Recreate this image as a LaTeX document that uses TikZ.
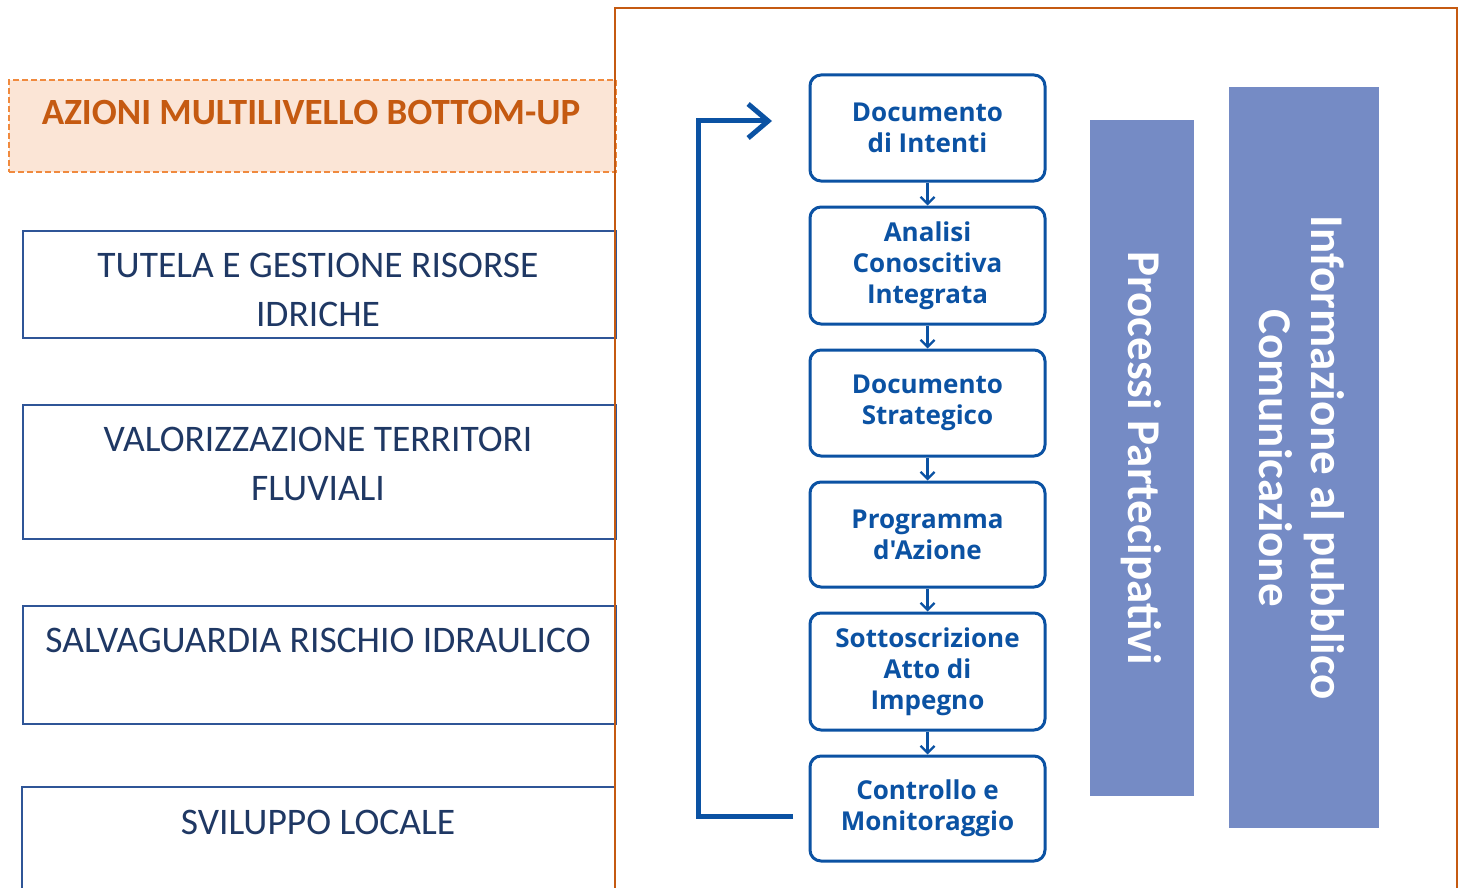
\documentclass[tikz,border=0pt]{standalone}
\usepackage{fontspec}
\setmainfont{Carlito}
\newfontfamily\flowfont{Open Sans}
\usetikzlibrary{arrows.meta}
\definecolor{orng}{HTML}{C55A11}
\definecolor{orngdash}{HTML}{F08A3E}
\definecolor{peach}{HTML}{FBE5D6}
\definecolor{navy}{HTML}{1F3864}
\definecolor{lbord}{HTML}{2F5597}
\definecolor{flowblue}{HTML}{0B52A3}
\definecolor{barblue}{HTML}{758BC5}
\tikzset{
  leftbox/.style={draw=lbord, line width=2pt},
  lefttext/.style={text=navy, font=\fontsize{37.5}{49}\selectfont, align=center, inner sep=0pt},
  flowbox/.style={draw=flowblue, line width=3pt, rounded corners=11pt, minimum width=235pt, text=flowblue, font=\flowfont\bfseries\fontsize{26}{31}\selectfont, align=center, inner sep=0pt},
  smallarrow/.style={draw=flowblue, line width=2.3pt, -{Straight Barb[length=7pt,width=14pt,line width=2.3pt]}},
  bigarrow/.style={draw=flowblue, line width=5pt, -{Straight Barb[length=20pt,width=34pt,line width=5pt]}},
  bar/.style={fill=barblue, draw=none},
  bartext/.style={text=white, font=\bfseries\fontsize{47}{52}\selectfont, align=center, rotate=-90, inner sep=0pt}
}
\begin{document}
\begin{tikzpicture}[x=1pt,y=-1pt]
\useasboundingbox (0,0) rectangle (1462,888);
\clip (0,0) rectangle (1462,888);
\fill[white] (0,0) rectangle (1462,888);

% left boxes
\node[leftbox, minimum width=593pt, minimum height=107pt, inner sep=0pt, anchor=north west] (b1) at (22,230) {};
\node[lefttext] (t1) at (318,290) {TUTELA E GESTIONE RISORSE\\IDRICHE};
\node[leftbox, minimum width=593pt, minimum height=134pt, inner sep=0pt, anchor=north west] (b2) at (22,404) {};
\node[lefttext] (t2) at (318,464) {VALORIZZAZIONE TERRITORI\\FLUVIALI};
\node[leftbox, minimum width=593pt, minimum height=118pt, inner sep=0pt, anchor=north west] (b3) at (22,605) {};
\node[lefttext] (t3) at (318,640) {SALVAGUARDIA RISCHIO IDRAULICO};
\node[leftbox, minimum width=593pt, minimum height=140pt, inner sep=0pt, anchor=north west] (b4) at (21,786) {};
\node[lefttext] (t4) at (318,822) {SVILUPPO LOCALE};

% header
\node[draw=orngdash, fill=peach, dashed, dash pattern=on 6pt off 3pt, line width=2pt, minimum width=607pt, minimum height=92pt, inner sep=0pt, anchor=north west] (hdr) at (8,79) {};
\node[text=orng, font=\bfseries\fontsize{37}{40}\selectfont, inner sep=0pt] (hdrt) at (311,113) {AZIONI MULTILIVELLO BOTTOM-UP};

% orange frame
\draw[orng, line width=2pt] (615,900) -- (615,8) -- (1457,8) -- (1457,900);

% flow boxes
\node[flowbox, minimum height=106pt] (f1) at (927.5,128) {Documento\\di Intenti};
\node[flowbox, minimum height=117pt] (f2) at (927.5,265.5) {Analisi\\Conoscitiva\\Integrata};
\node[flowbox, minimum height=106pt] (f3) at (927.5,403) {Documento\\Strategico};
\node[flowbox, minimum height=105pt] (f4) at (927.5,534.5) {Programma\\d'Azione};
\node[flowbox, minimum height=117pt] (f5) at (927.5,671.5) {Sottoscrizione\\Atto di\\Impegno};
\node[flowbox, minimum height=105pt] (f6) at (927.5,808.5) {Controllo e\\Monitoraggio};

\draw[smallarrow] (f1.south) -- (f2.north);
\draw[smallarrow] (f2.south) -- (f3.north);
\draw[smallarrow] (f3.south) -- (f4.north);
\draw[smallarrow] (f4.south) -- (f5.north);
\draw[smallarrow] (f5.south) -- (f6.north);

% feedback loop
\coordinate (fbA) at (793,816);
\coordinate (fbC) at (698,121);
\coordinate (fbD) at (772,121);
\draw[bigarrow] (fbA) -| (fbC) -- (fbD);

% bars
\node[bar, minimum width=104pt, minimum height=676pt, inner sep=0pt, anchor=north west] (bar1) at (1090,120) {};
\node[bartext] (bt1) at (1141,458) {Processi Partecipativi};
\node[bar, minimum width=150pt, minimum height=741pt, inner sep=0pt, anchor=north west] (bar2) at (1229,87) {};
\node[bartext] (bt2) at (1302,458) {Informazione al pubblico\\Comunicazione};
\end{tikzpicture}
\end{document}
